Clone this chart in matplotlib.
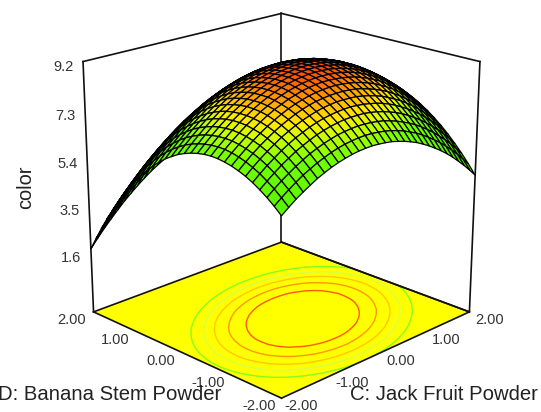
import matplotlib
matplotlib.use("Agg")
import matplotlib.pyplot as plt
import numpy as np
from matplotlib.colors import LinearSegmentedColormap, Normalize
from mpl_toolkits.mplot3d import proj3d

plt.rcParams["font.family"] = ["Liberation Sans", "DejaVu Sans"]

# coded factor levels
jack_fruit = [-2.0, -1.8667, -1.7333, -1.6, -1.4667, -1.3333, -1.2, -1.0667, -0.9333, -0.8, -0.6667,
              -0.5333, -0.4, -0.2667, -0.1333, 0.0, 0.1333, 0.2667, 0.4, 0.5333, 0.6667,
              0.8, 0.9333, 1.0667, 1.2, 1.3333, 1.4667, 1.6, 1.7333, 1.8667, 2.0]
banana_stem = [-2.0, -1.8667, -1.7333, -1.6, -1.4667, -1.3333, -1.2, -1.0667, -0.9333, -0.8, -0.6667,
               -0.5333, -0.4, -0.2667, -0.1333, 0.0, 0.1333, 0.2667, 0.4, 0.5333, 0.6667,
               0.8, 0.9333, 1.0667, 1.2, 1.3333, 1.4667, 1.6, 1.7333, 1.8667, 2.0]

# color response, one row per banana_stem level
color_z = [
    [5.95, 6.16, 6.36, 6.53, 6.69, 6.84, 6.96, 7.07, 7.16, 7.23, 7.29, 7.33, 7.35, 7.36, 7.34, 7.31, 7.27, 7.20, 7.12, 7.02, 6.91, 6.77, 6.62, 6.45, 6.27, 6.07, 5.85, 5.61, 5.36, 5.09, 4.80],
    [6.20, 6.41, 6.61, 6.79, 6.96, 7.10, 7.23, 7.34, 7.44, 7.52, 7.58, 7.62, 7.65, 7.66, 7.65, 7.62, 7.58, 7.52, 7.44, 7.35, 7.23, 7.11, 6.96, 6.79, 6.61, 6.42, 6.20, 5.97, 5.72, 5.45, 5.17],
    [6.42, 6.64, 6.84, 7.02, 7.19, 7.34, 7.48, 7.59, 7.69, 7.77, 7.84, 7.88, 7.91, 7.93, 7.92, 7.90, 7.86, 7.81, 7.73, 7.64, 7.53, 7.41, 7.27, 7.11, 6.93, 6.74, 6.52, 6.30, 6.05, 5.79, 5.51],
    [6.61, 6.83, 7.04, 7.23, 7.40, 7.56, 7.69, 7.81, 7.92, 8.00, 8.07, 8.12, 8.16, 8.17, 8.17, 8.16, 8.12, 8.07, 8.00, 7.91, 7.81, 7.69, 7.55, 7.39, 7.22, 7.03, 6.82, 6.60, 6.36, 6.10, 5.82],
    [6.78, 7.01, 7.22, 7.41, 7.59, 7.75, 7.89, 8.01, 8.12, 8.21, 8.28, 8.33, 8.37, 8.39, 8.40, 8.38, 8.35, 8.30, 8.24, 8.16, 8.06, 7.94, 7.80, 7.65, 7.48, 7.30, 7.09, 6.87, 6.64, 6.38, 6.11],
    [6.92, 7.15, 7.37, 7.56, 7.74, 7.91, 8.05, 8.18, 8.29, 8.38, 8.46, 8.52, 8.56, 8.59, 8.59, 8.58, 8.56, 8.51, 8.45, 8.37, 8.28, 8.16, 8.03, 7.89, 7.72, 7.54, 7.34, 7.12, 6.89, 6.64, 6.37],
    [7.03, 7.27, 7.49, 7.69, 7.87, 8.04, 8.19, 8.32, 8.44, 8.54, 8.62, 8.68, 8.72, 8.75, 8.76, 8.76, 8.74, 8.70, 8.64, 8.56, 8.47, 8.36, 8.24, 8.09, 7.93, 7.75, 7.56, 7.35, 7.12, 6.87, 6.60],
    [7.12, 7.36, 7.58, 7.79, 7.98, 8.15, 8.30, 8.44, 8.56, 8.66, 8.74, 8.81, 8.86, 8.89, 8.91, 8.91, 8.89, 8.85, 8.80, 8.73, 8.64, 8.54, 8.41, 8.27, 8.12, 7.94, 7.75, 7.54, 7.32, 7.07, 6.81],
    [7.18, 7.43, 7.65, 7.86, 8.05, 8.23, 8.39, 8.53, 8.65, 8.76, 8.84, 8.92, 8.97, 9.01, 9.03, 9.03, 9.01, 8.98, 8.93, 8.87, 8.78, 8.68, 8.56, 8.43, 8.27, 8.10, 7.92, 7.71, 7.49, 7.25, 6.99],
    [7.22, 7.47, 7.70, 7.91, 8.11, 8.28, 8.45, 8.59, 8.72, 8.83, 8.92, 8.99, 9.05, 9.09, 9.12, 9.12, 9.11, 9.08, 9.04, 8.98, 8.90, 8.80, 8.68, 8.55, 8.40, 8.24, 8.05, 7.85, 7.64, 7.40, 7.15],
    [7.23, 7.48, 7.71, 7.93, 8.13, 8.31, 8.48, 8.63, 8.76, 8.87, 8.97, 9.05, 9.11, 9.15, 9.18, 9.19, 9.18, 9.16, 9.12, 9.06, 8.98, 8.89, 8.78, 8.65, 8.51, 8.35, 8.17, 7.97, 7.76, 7.53, 7.28],
    [7.21, 7.46, 7.70, 7.92, 8.13, 8.31, 8.49, 8.63, 8.77, 8.89, 8.99, 9.07, 9.14, 9.19, 9.22, 9.23, 9.23, 9.21, 9.17, 9.12, 9.05, 8.96, 8.85, 8.73, 8.59, 8.43, 8.25, 8.06, 7.85, 7.62, 7.38],
    [7.16, 7.42, 7.66, 7.89, 8.10, 8.29, 8.46, 8.62, 8.76, 8.88, 8.98, 9.07, 9.14, 9.19, 9.23, 9.25, 9.25, 9.23, 9.20, 9.15, 9.08, 9.00, 8.89, 8.77, 8.64, 8.48, 8.31, 8.12, 7.92, 7.69, 7.45],
    [7.09, 7.35, 7.60, 7.83, 8.04, 8.24, 8.41, 8.57, 8.72, 8.84, 8.95, 9.04, 9.12, 9.17, 9.21, 9.24, 9.24, 9.23, 9.20, 9.15, 9.09, 9.01, 8.91, 8.79, 8.66, 8.51, 8.34, 8.16, 7.96, 7.74, 7.50],
    [6.99, 7.26, 7.51, 7.74, 7.96, 8.16, 8.34, 8.50, 8.65, 8.78, 8.89, 8.99, 9.07, 9.13, 9.17, 9.20, 9.21, 9.20, 9.17, 9.13, 9.07, 8.99, 8.90, 8.79, 8.66, 8.51, 8.35, 8.17, 7.97, 7.76, 7.52],
    [6.87, 7.14, 7.39, 7.63, 7.85, 8.05, 8.24, 8.41, 8.56, 8.69, 8.81, 8.91, 8.99, 9.05, 9.10, 9.13, 9.15, 9.14, 9.12, 9.08, 9.03, 8.95, 8.86, 8.75, 8.63, 8.49, 8.33, 8.15, 7.96, 7.75, 7.52],
    [6.71, 6.99, 7.25, 7.49, 7.71, 7.92, 8.11, 8.28, 8.44, 8.58, 8.70, 8.80, 8.89, 8.96, 9.01, 9.04, 9.06, 9.06, 9.04, 9.01, 8.95, 8.89, 8.80, 8.70, 8.58, 8.44, 8.28, 8.11, 7.92, 7.71, 7.49],
    [6.54, 6.82, 7.08, 7.32, 7.55, 7.76, 7.96, 8.13, 8.29, 8.43, 8.56, 8.67, 8.76, 8.83, 8.88, 8.92, 8.94, 8.95, 8.93, 8.90, 8.86, 8.79, 8.71, 8.61, 8.49, 8.36, 8.21, 8.04, 7.85, 7.65, 7.43],
    [6.33, 6.62, 6.88, 7.13, 7.36, 7.58, 7.78, 7.96, 8.12, 8.27, 8.39, 8.51, 8.60, 8.68, 8.74, 8.78, 8.80, 8.81, 8.80, 8.78, 8.73, 8.67, 8.59, 8.50, 8.38, 8.25, 8.11, 7.94, 7.76, 7.56, 7.35],
    [6.10, 6.39, 6.66, 6.91, 7.15, 7.37, 7.57, 7.75, 7.92, 8.07, 8.20, 8.32, 8.42, 8.50, 8.56, 8.61, 8.64, 8.65, 8.64, 8.62, 8.58, 8.52, 8.45, 8.36, 8.25, 8.12, 7.98, 7.82, 7.64, 7.45, 7.23],
    [5.84, 6.13, 6.41, 6.66, 6.91, 7.13, 7.33, 7.52, 7.69, 7.85, 7.98, 8.10, 8.20, 8.29, 8.36, 8.41, 8.44, 8.46, 8.46, 8.44, 8.40, 8.35, 8.28, 8.19, 8.09, 7.96, 7.83, 7.67, 7.50, 7.30, 7.10],
    [5.56, 5.85, 6.13, 6.39, 6.64, 6.86, 7.07, 7.27, 7.44, 7.60, 7.74, 7.86, 7.97, 8.06, 8.13, 8.18, 8.22, 8.24, 8.24, 8.23, 8.20, 8.15, 8.08, 8.00, 7.90, 7.78, 7.65, 7.49, 7.32, 7.14, 6.93],
    [5.25, 5.55, 5.83, 6.09, 6.34, 6.57, 6.79, 6.98, 7.16, 7.32, 7.47, 7.60, 7.71, 7.80, 7.87, 7.93, 7.97, 8.00, 8.01, 7.99, 7.97, 7.92, 7.86, 7.78, 7.68, 7.57, 7.44, 7.29, 7.12, 6.94, 6.74],
    [4.91, 5.21, 5.50, 5.77, 6.02, 6.25, 6.47, 6.67, 6.86, 7.02, 7.17, 7.30, 7.42, 7.51, 7.59, 7.66, 7.70, 7.73, 7.74, 7.73, 7.71, 7.67, 7.61, 7.53, 7.44, 7.33, 7.20, 7.06, 6.90, 6.72, 6.52],
    [4.54, 4.85, 5.14, 5.42, 5.67, 5.91, 6.13, 6.34, 6.52, 6.69, 6.85, 6.98, 7.10, 7.20, 7.28, 7.35, 7.40, 7.43, 7.45, 7.44, 7.42, 7.39, 7.33, 7.26, 7.17, 7.07, 6.95, 6.80, 6.65, 6.47, 6.28],
    [4.15, 4.46, 4.76, 5.04, 5.30, 5.54, 5.77, 5.97, 6.16, 6.34, 6.50, 6.63, 6.76, 6.86, 6.95, 7.02, 7.07, 7.11, 7.13, 7.13, 7.11, 7.08, 7.03, 6.96, 6.88, 6.78, 6.66, 6.52, 6.37, 6.20, 6.01],
    [3.73, 4.05, 4.35, 4.63, 4.90, 5.14, 5.37, 5.58, 5.78, 5.96, 6.12, 6.26, 6.39, 6.50, 6.59, 6.66, 6.72, 6.76, 6.78, 6.79, 6.78, 6.75, 6.70, 6.64, 6.56, 6.46, 6.35, 6.21, 6.06, 5.90, 5.71],
    [3.29, 3.61, 3.91, 4.20, 4.47, 4.72, 4.95, 5.17, 5.37, 5.55, 5.71, 5.86, 5.99, 6.11, 6.20, 6.28, 6.34, 6.39, 6.41, 6.42, 6.41, 6.39, 6.35, 6.29, 6.21, 6.12, 6.01, 5.88, 5.73, 5.57, 5.39],
    [2.82, 3.14, 3.45, 3.74, 4.01, 4.27, 4.51, 4.73, 4.93, 5.12, 5.28, 5.43, 5.57, 5.69, 5.79, 5.87, 5.93, 5.98, 6.01, 6.03, 6.02, 6.00, 5.96, 5.91, 5.84, 5.75, 5.64, 5.51, 5.37, 5.21, 5.04],
    [2.32, 2.65, 2.96, 3.25, 3.53, 3.79, 4.03, 4.26, 4.46, 4.65, 4.83, 4.98, 5.12, 5.24, 5.34, 5.43, 5.50, 5.55, 5.59, 5.61, 5.60, 5.59, 5.55, 5.50, 5.43, 5.35, 5.25, 5.12, 4.99, 4.83, 4.66],
    [1.80, 2.13, 2.45, 2.74, 3.02, 3.29, 3.53, 3.76, 3.97, 4.17, 4.34, 4.50, 4.64, 4.77, 4.88, 4.97, 5.04, 5.10, 5.14, 5.16, 5.16, 5.15, 5.12, 5.07, 5.01, 4.92, 4.83, 4.71, 4.58, 4.42, 4.26],
]

xy_ticks = [-2.0, -1.0, 0.0, 1.0, 2.0]
z_ticks = [1.6, 3.5, 5.4, 7.3, 9.2]
contour_levels = [7.35, 7.75, 8.05, 8.4, 8.75]
contour_colors = ["#80ff20", "#d8ff40", "#ffc800", "#ff9800", "#ff5a00"]

Z_FLOOR = -0.85
Z_TOP = 9.25

X, Y = np.meshgrid(jack_fruit, banana_stem)
Z = np.array(color_z)

cmap = LinearSegmentedColormap.from_list(
    "rsm",
    [(0.0, "#50f000"), (0.45, "#70ff00"), (0.62, "#d0ff00"), (0.72, "#ffe800"),
     (0.85, "#ffa000"), (1.0, "#ff4800")],
)

fig = plt.figure(figsize=(5.41, 4.12), dpi=100)
ax = fig.add_axes([-0.01, 0.025, 1.04, 1.0], projection="3d")
ax.computed_zorder = False
ax.set_axis_off()
ax.set_proj_type("persp", focal_length=0.75)
ax.view_init(elev=20, azim=-135)
ax.set_box_aspect((1, 1, 0.975), zoom=1.105)
ax.set_xlim(-2, 2)
ax.set_ylim(-2, 2)
ax.set_zlim(Z_FLOOR, Z_TOP)

# floor
ax.plot_surface(np.array([[-2, 2], [-2, 2]]), np.array([[-2, -2], [2, 2]]),
                np.full((2, 2), Z_FLOOR), color="#ffff00", shade=False,
                linewidth=0, zorder=1)
ax.contour(X, Y, Z, levels=contour_levels, colors=contour_colors,
           zdir="z", offset=Z_FLOOR, linewidths=1.0, zorder=2)

# box outline
for xs, ys, zs in [
    ([-2, 2, 2], [2, 2, -2], [Z_FLOOR] * 3),
    ([-2, 2, 2], [-2, -2, 2], [Z_FLOOR] * 3),
    ([-2, 2, 2], [2, 2, -2], [Z_TOP] * 3),
    ([-2, -2], [2, 2], [Z_FLOOR, Z_TOP]),
    ([2, 2], [2, 2], [Z_FLOOR, Z_TOP]),
    ([2, 2], [-2, -2], [Z_FLOOR, Z_TOP]),
    ([-2, -2], [-2, 2], [Z_FLOOR, Z_FLOOR]),
]:
    ax.plot(xs, ys, zs, color="#111111", lw=1.2, zorder=3)

ax.plot_surface(X, Y, Z, cmap=cmap, norm=Normalize(5.65, 9.25), rstride=1, cstride=1,
                edgecolor="black", linewidth=0.9, shade=False, zorder=4)

# the 3d axes box is square, marks run past it
for child in ax.get_children():
    child.set_clip_on(False)


def label_at(x, y, z, s, dx, dy):
    px, py, _ = proj3d.proj_transform(x, y, z, ax.get_proj())
    ax.annotate(s, xy=(px, py), xytext=(dx, dy), textcoords="offset pixels",
                ha="center", va="center", fontsize=10.5, color="#333333",
                annotation_clip=False)


for t in xy_ticks:
    label_at(t, -2, Z_FLOOR, "%.2f" % t, 20, -8)
    label_at(-2, t, Z_FLOOR, "%.2f" % t, -22, -8)
for t in z_ticks:
    label_at(-2, 2, t, "%.1f" % t, -20, -4)

fig.text(26 / 541, 1 - 187 / 412, "color", rotation=90, ha="center", va="center",
         fontsize=14.4, color="#222222")
fig.text(538 / 541, 1 - 394 / 412, "C: Jack Fruit Powder", ha="right", va="center",
         fontsize=14.6, color="#222222")
fig.text(221 / 541, 1 - 394 / 412, "D: Banana Stem Powder", ha="right", va="center",
         fontsize=14.6, color="#222222")

fig.savefig("out.png", dpi=100)
